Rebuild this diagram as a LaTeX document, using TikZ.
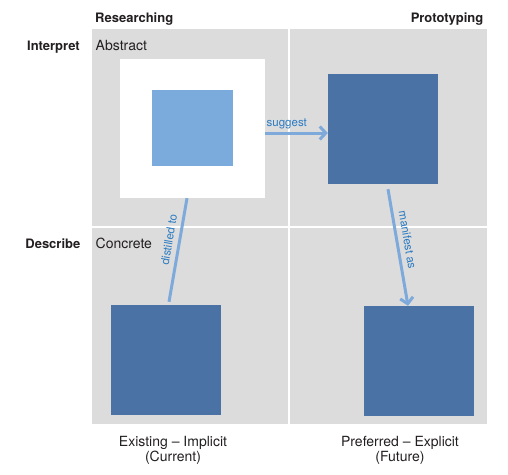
\documentclass[tikz,border=0pt]{standalone}
\usepackage{fontspec}
\setmainfont{TeX Gyre Heros}
\usetikzlibrary{arrows.meta}
\definecolor{panelgray}{HTML}{DCDCDC}
\definecolor{darkblue}{HTML}{4A72A5}
\definecolor{lightblue}{HTML}{7BAADC}
\definecolor{linkblue}{HTML}{7DAADB}
\definecolor{labelblue}{HTML}{2A7BC2}
\definecolor{ink}{HTML}{231F20}
\begin{document}
\begin{tikzpicture}[x=1pt,y=-1pt,line join=round,>={Straight Barb[length=6pt,width=13pt]}]
	\tikzset{every node/.style={inner sep=0pt,text=ink,font=\fontsize{14}{15}\selectfont},
		head/.style={font=\fontsize{13}{15}\selectfont\bfseries},
		bluebox/.style={fill=darkblue,minimum width=110pt,minimum height=110pt},
		link/.style={draw=linkblue,line width=3pt},
		linklabel/.style={text=labelblue,font=\fontsize{11.5}{13}\selectfont}}
	\useasboundingbox (0,0) rectangle (508,474);
	% quadrants
	\fill[panelgray] (92,29) rectangle (487,424);
	\draw[white,line width=2pt] (289,29)--(289,424) (92,226.5)--(487,226.5);
	% boxes
	\node[fill=white,minimum width=145pt,minimum height=139pt] (frame) at (192.5,128.5) {};
	\node[fill=lightblue,minimum width=81pt,minimum height=76pt] (sketch) at (192.5,128) {};
	\node[bluebox] (proto) at (383,129) {};
	\node[bluebox] (current) at (166,360) {};
	\node[bluebox] (future) at (419,361) {};
	% links
	\draw[link,->] ([yshift=-4.5pt]frame.east) -- ([yshift=-4.5pt]frame.east -| proto.west)
		node[linklabel,pos=0,anchor=base west,yshift=7pt] {suggest};
	\draw[link] ([xshift=-5.5pt]frame.south) -- ([xshift=3pt,yshift=3pt]current.north)
		node[linklabel,pos=0.42,sloped,above=5pt] {distilled to};
	\draw[link,->] ([xshift=5pt,yshift=-5pt]proto.south) -- ([xshift=-11pt]future.north)
		node[linklabel,pos=0.45,sloped,above=5pt] {manifest as};
	% labels
	\node[head,anchor=base west] (research) at (95,22.5) {Researching};
	\node[head,anchor=base east] (prototype) at (483.5,22.5) {Prototyping};
	\node[head,anchor=base east] (interpret) at (80,50.7) {Interpret};
	\node[head,anchor=base east] (describe) at (80.5,248.7) {Describe};
	\node[anchor=base west] (abstract) at (95.5,50.7) {Abstract};
	\node[anchor=base west] (concrete) at (95.5,248.7) {Concrete};
	\node[anchor=north,align=center] (existing) at (173,435.8) {Existing -- Implicit\\(Current)};
	\node[anchor=north,align=center] (preferred) at (400,435.8) {Preferred -- Explicit\\(Future)};
\end{tikzpicture}
\end{document}
